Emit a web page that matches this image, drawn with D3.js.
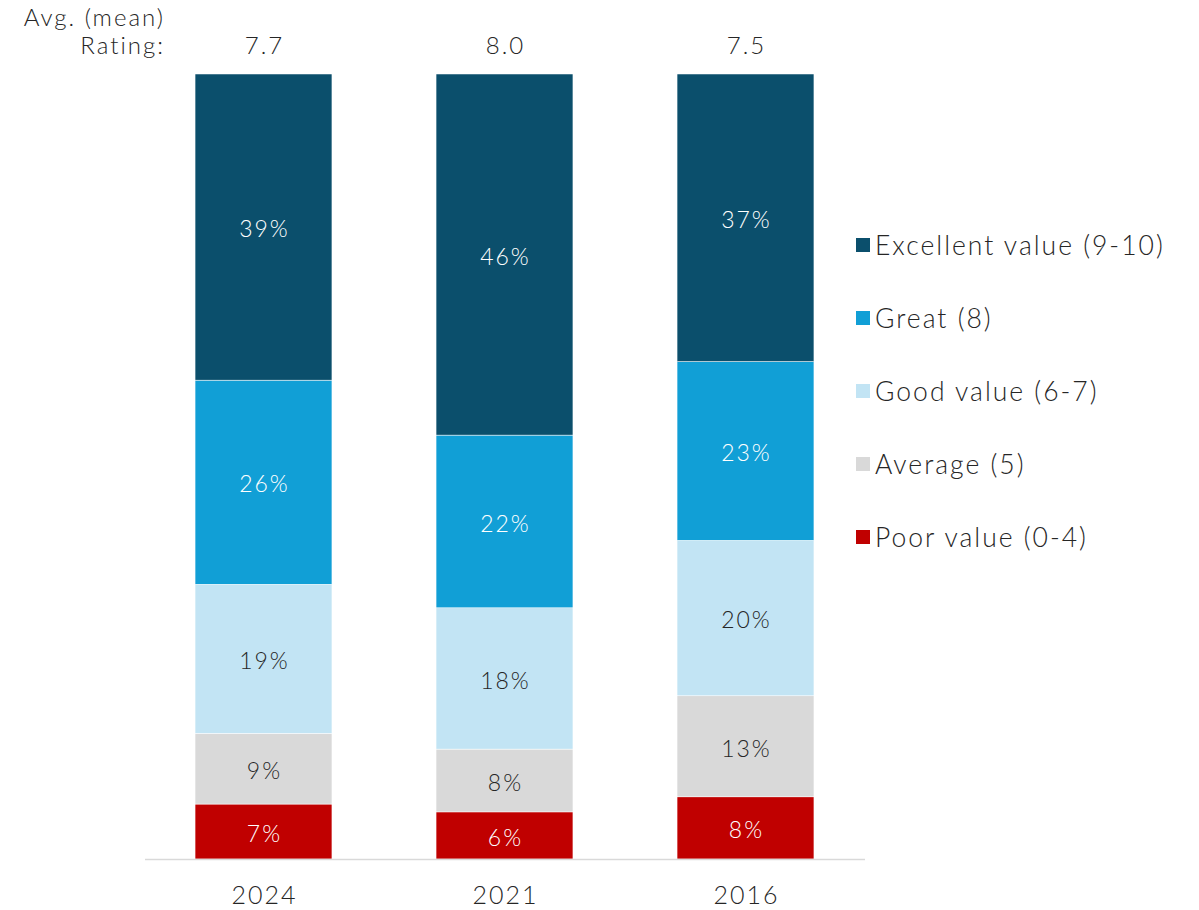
<!DOCTYPE html>
<html>
<head>
<meta charset="utf-8">
<script src="https://cdn.jsdelivr.net/npm/d3@7"></script>
<style>
  body { margin: 0; background: #fff; }
  text { font-family: "Lato", "Open Sans", sans-serif; font-weight: 300; fill: #262626; letter-spacing: 2px; }
</style>
</head>
<body>
<script>
// stacked 100% bars, ratings by year

var years = ["2024", "2021", "2016"]
var ratings = ["7.7", "8.0", "7.5"]
var categories = ["Poor value (0-4)", "Average (5)", "Good value (6-7)", "Great (8)", "Excellent value (9-10)"]
var poor = [7, 6, 8]
var average = [9, 8, 13]
var good = [19, 18, 20]
var great = [26, 22, 23]
var excellent = [39, 46, 37]

var colors = ["#C00000", "#D9D9D9", "#C2E4F4", "#119FD6", "#0B4F6C"]
var labelColors = ["#ffffff", "#262626", "#262626", "#ffffff", "#ffffff"]

var rows = years.map(function(y, i) {
    return {year: y, rating: ratings[i], 0: poor[i], 1: average[i], 2: good[i], 3: great[i], 4: excellent[i]}
})

var screen = {width: 1199, height: 910}
var margins = {top: 74, bottom: 51, left: 143, right: 333}
var height = screen.height - margins.top - margins.bottom

var svg = d3.select("body")
    .append("svg")
    .attr("width", screen.width)
    .attr("height", screen.height)

var xScale = d3.scaleBand()
    .domain(years)
    .range([margins.left, screen.width - margins.right])
    .paddingInner(0.432)
    .paddingOuter(0.216)

var yScale = d3.scaleLinear()
    .domain([0, 1])
    .range([margins.top + height, margins.top])

var cScale = d3.scaleOrdinal().domain([0, 1, 2, 3, 4]).range(colors)

var stack = d3.stack()
    .keys([0, 1, 2, 3, 4])
    .offset(d3.stackOffsetExpand)

var series = stack(rows)

var groups = svg.append("g")
    .selectAll("g")
    .data(series)
    .enter()
    .append("g")
    .attr("fill", function(d) { return cScale(d.key) })

groups.selectAll("rect")
    .data(function(d) { return d })
    .enter()
    .append("rect")
    .attr("x", function(d) { return xScale(d.data.year) })
    .attr("y", function(d) { return yScale(d[1]) })
    .attr("width", xScale.bandwidth())
    .attr("height", function(d) { return yScale(d[0]) - yScale(d[1]) })
    .attr("stroke", "#ffffff")
    .attr("stroke-width", 0.5)

// segment labels
series.forEach(function(s) {
    svg.append("g")
        .selectAll("text")
        .data(s)
        .enter()
        .append("text")
        .attr("x", function(d) { return xScale(d.data.year) + xScale.bandwidth() / 2 + 1 })
        .attr("y", function(d) { return (yScale(d[0]) + yScale(d[1])) / 2 + 2 })
        .attr("dy", "0.36em")
        .attr("text-anchor", "middle")
        .style("font-size", "23px")
        .style("fill", labelColors[s.key])
        .text(function(d) { return d.data[s.key] + "%" })
})

// baseline
svg.append("line")
    .attr("x1", 145)
    .attr("x2", 865)
    .attr("y1", yScale(0) + 0.5)
    .attr("y2", yScale(0) + 0.5)
    .attr("stroke", "#D9D9D9")
    .attr("stroke-width", 1.5)

// year labels
var xAxis = d3.axisBottom(xScale).tickSize(0).tickPadding(27)
var axisG = svg.append("g")
    .attr("transform", "translate(1," + yScale(0) + ")")
    .call(xAxis)
axisG.select(".domain").remove()
axisG.selectAll("text")
    .style("font-size", "25px")
    .style("font-family", null)
    .attr("fill", null)

// rating header
svg.append("text")
    .attr("x", 165)
    .attr("y", 26)
    .attr("text-anchor", "end")
    .style("font-size", "24px")
    .text("Avg. (mean)")
svg.append("text")
    .attr("x", 165)
    .attr("y", 54)
    .attr("text-anchor", "end")
    .style("font-size", "24px")
    .text("Rating:")

svg.append("g")
    .selectAll("text")
    .data(rows)
    .enter()
    .append("text")
    .attr("x", function(d) { return xScale(d.year) + xScale.bandwidth() / 2 + 1 })
    .attr("y", 54)
    .attr("text-anchor", "middle")
    .style("font-size", "24px")
    .text(function(d) { return d.rating })

// legend
var legendOrder = [4, 3, 2, 1, 0]
var legend = svg.append("g")
    .selectAll("g")
    .data(legendOrder)
    .enter()
    .append("g")
    .attr("transform", function(d, i) { return "translate(856," + (245 + i * 73) + ")" })

legend.append("rect")
    .attr("x", 0)
    .attr("y", -7)
    .attr("width", 14)
    .attr("height", 14)
    .attr("fill", function(d) { return cScale(d) })

legend.append("text")
    .attr("x", 19)
    .attr("dy", "0.36em")
    .style("font-size", "26.5px")
    .text(function(d) { return categories[d] })
</script>
</body>
</html>
